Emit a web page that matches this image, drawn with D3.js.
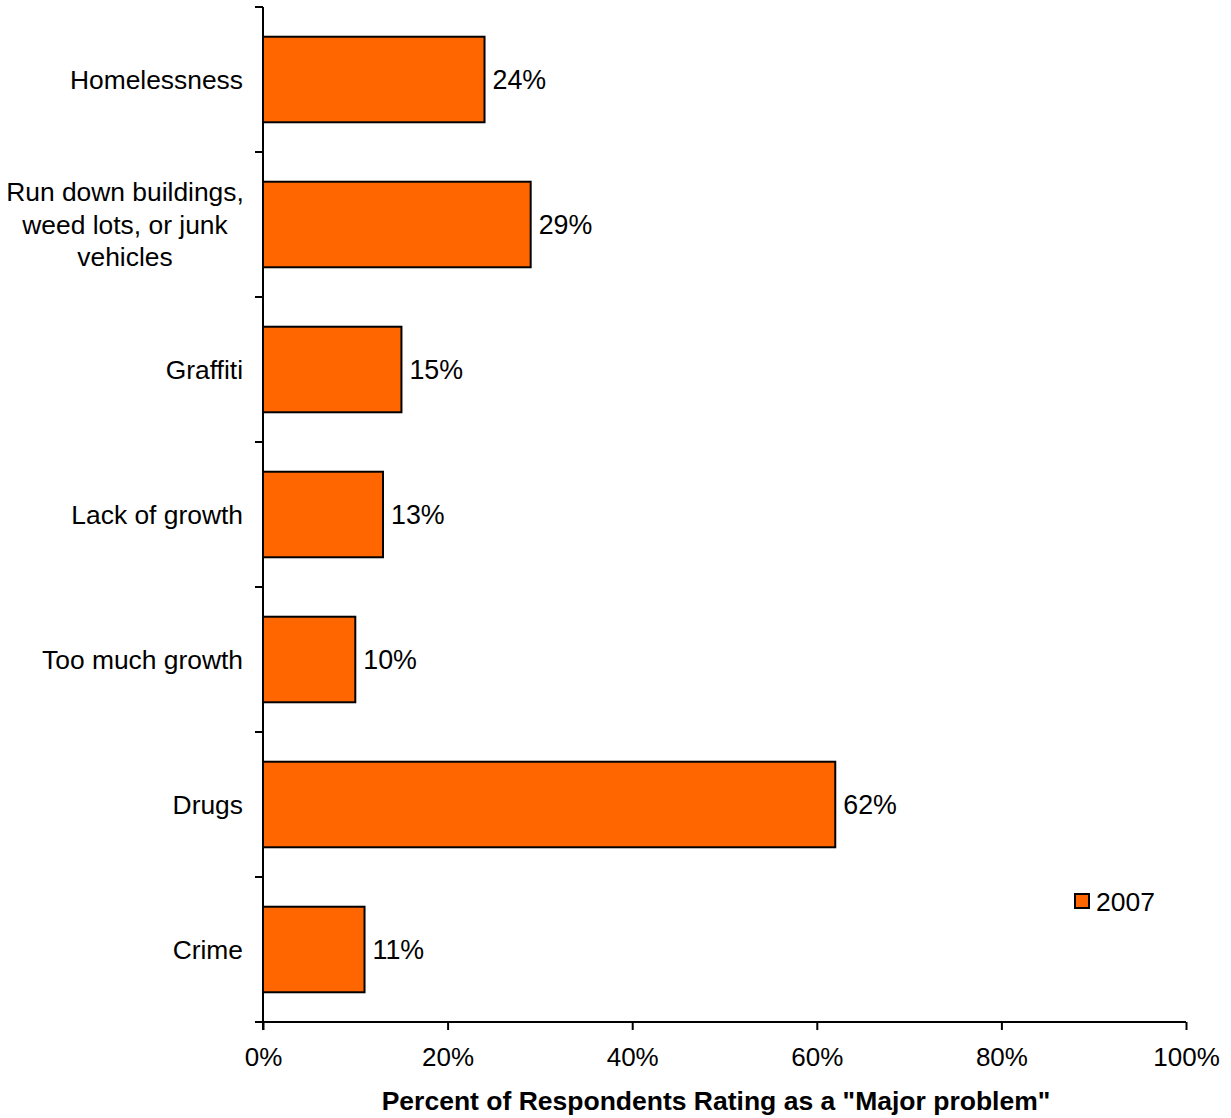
<!DOCTYPE html>
<html>
<head>
<meta charset="utf-8">
<script src="https://cdn.jsdelivr.net/npm/d3@7"></script>
<style>
  body { margin: 0; background: #fff; }
  svg { display: block; font-family: "Liberation Sans", Arial, sans-serif; }
</style>
</head>
<body>
<svg id="chart" width="1231" height="1118"></svg>
<script>
// Survey categories, top to bottom
const categories = [
  "Homelessness",
  "Run down buildings, weed lots, or junk vehicles",
  "Graffiti",
  "Lack of growth",
  "Too much growth",
  "Drugs",
  "Crime"
];
// Wrapped label lines for each category
const labelLines = [
  ["Homelessness"],
  ["Run down buildings,", "weed lots, or junk", "vehicles"],
  ["Graffiti"],
  ["Lack of growth"],
  ["Too much growth"],
  ["Drugs"],
  ["Crime"]
];
// Percent rating as a "Major problem", 2007
const values2007 = [24, 29, 15, 13, 10, 62, 11];
const xTicks = [0, 20, 40, 60, 80, 100];
const seriesName = "2007";
const xTitle = "Percent of Respondents Rating as a \"Major problem\"";

const svg = d3.select("#chart");
const plotLeft = 263, plotRight = 1186, plotTop = 7, plotBottom = 1022;
const fs = 26.4;

const x = d3.scaleLinear().domain([0, 100]).range([plotLeft, plotRight]);
const y = d3.scaleBand().domain(categories).range([plotTop, plotBottom]).paddingInner(0.41).paddingOuter(0.205);

// Bars
svg.append("g").selectAll("rect")
  .data(categories)
  .join("rect")
  .attr("x", x(0))
  .attr("y", d => y(d))
  .attr("width", (d, i) => x(values2007[i]) - x(0))
  .attr("height", y.bandwidth())
  .attr("fill", "#FF6600")
  .attr("stroke", "#000")
  .attr("stroke-width", 2);

// Value labels
svg.append("g").selectAll("text")
  .data(categories)
  .join("text")
  .attr("x", (d, i) => x(values2007[i]) + 8)
  .attr("y", d => y(d) + y.bandwidth() / 2)
  .attr("dy", "0.35em")
  .attr("font-size", 26.8)
  .attr("fill", "#000")
  .text((d, i) => values2007[i] + "%");

// X axis
const xAxis = d3.axisBottom(x).tickValues(xTicks).tickFormat(d => d + "%").tickSize(8).tickSizeOuter(0);
const gx = svg.append("g").attr("transform", `translate(0,${plotBottom})`).call(xAxis);
gx.select(".domain").attr("stroke", "#000").attr("stroke-width", 2).attr("d", `M${plotLeft - 8},0H${plotRight}`);
gx.selectAll(".tick line").attr("stroke", "#000").attr("stroke-width", 2);
gx.selectAll(".tick text").attr("font-size", 26).attr("font-family", "Liberation Sans, Arial, sans-serif").attr("fill", "#000").attr("y", 26);

// Y axis: boundary ticks between categories
const gy = svg.append("g");
gy.append("line")
  .attr("x1", plotLeft).attr("x2", plotLeft)
  .attr("y1", plotTop).attr("y2", plotBottom + 8)
  .attr("stroke", "#000").attr("stroke-width", 2);
const step = y.step();
const boundaries = d3.range(categories.length).map(i => y(categories[i]) - y.paddingInner() * step / 2);
gy.selectAll("line.tick")
  .data(boundaries)
  .join("line")
  .attr("class", "tick")
  .attr("x1", plotLeft - 8).attr("x2", plotLeft)
  .attr("y1", d => d).attr("y2", d => d)
  .attr("stroke", "#000").attr("stroke-width", 2);

// Category labels
const lineH = 32.5;
const labels = svg.append("g");
categories.forEach((c, i) => {
  const lines = labelLines[i];
  const cy = y(c) + y.bandwidth() / 2;
  const multi = lines.length > 1;
  const t = labels.append("text")
    .attr("font-size", fs)
    .attr("fill", "#000")
    .attr("text-anchor", multi ? "middle" : "end");
  lines.forEach((ln, j) => {
    t.append("tspan")
      .attr("x", multi ? 125 : 243)
      .attr("y", cy + (j - (lines.length - 1) / 2) * lineH)
      .attr("dy", "0.35em")
      .text(ln);
  });
});

// Axis title
svg.append("text")
  .attr("x", 716)
  .attr("y", 1110)
  .attr("text-anchor", "middle")
  .attr("font-size", 26.5)
  .attr("font-weight", "bold")
  .attr("fill", "#000")
  .text(xTitle);

// Legend
const lg = svg.append("g").attr("transform", "translate(1075,894)");
lg.append("rect").attr("width", 14).attr("height", 14)
  .attr("fill", "#FF6600").attr("stroke", "#000").attr("stroke-width", 2);
lg.append("text").attr("x", 21).attr("y", 8).attr("dy", "0.35em")
  .attr("font-size", 26.5).attr("fill", "#000").text(seriesName);
</script>
</body>
</html>
